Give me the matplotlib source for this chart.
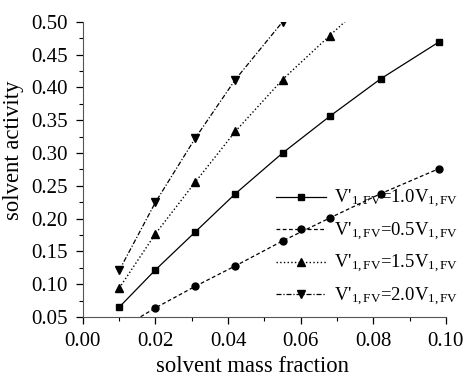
import matplotlib
matplotlib.use("Agg")
import matplotlib.pyplot as plt
from matplotlib.ticker import MultipleLocator

plt.rcParams['font.family'] = ['Liberation Serif', 'DejaVu Serif']
plt.rcParams['mathtext.fontset'] = 'custom'
plt.rcParams['mathtext.rm'] = 'Liberation Serif'
plt.rcParams['mathtext.it'] = 'Liberation Serif:italic'

# solvent mass fraction
x = [0.010, 0.020, 0.031, 0.042, 0.055, 0.068, 0.082, 0.098]

# solvent activity for each V'1,FV ratio
a_10 = [0.065, 0.122, 0.180, 0.238, 0.300, 0.356, 0.413, 0.469]
a_05 = [0.031, 0.064, 0.097, 0.128, 0.166, 0.201, 0.238, 0.276]
a_15 = [0.094, 0.177, 0.256, 0.333, 0.412, 0.479, 0.550, 0.615]
a_20 = [0.121, 0.225, 0.323, 0.412, 0.500, 0.575, 0.650, 0.720]

labels = [r"V'$_{\rm 1,FV}$=1.0V$_{\rm 1,FV}$",
          r"V'$_{\rm 1,FV}$=0.5V$_{\rm 1,FV}$",
          r"V'$_{\rm 1,FV}$=1.5V$_{\rm 1,FV}$",
          r"V'$_{\rm 1,FV}$=2.0V$_{\rm 1,FV}$"]

fig = plt.figure(figsize=(4.63, 3.77), dpi=100)
ax = fig.add_axes([0.179, 0.159, 0.784, 0.783])

ax.plot(x, a_10, 'k-', marker='s', ms=5, lw=0.9, label=labels[0])
ax.plot(x, a_05, 'k--', marker='o', ms=5, lw=0.9, dashes=(3, 2), label=labels[1])
ax.plot(x, a_15, 'k:', marker='^', ms=6, lw=1.0, label=labels[2])
ax.plot(x, a_20, 'k-.', marker='v', ms=6, lw=0.9, dashes=(4, 1.5, 1, 1.5), label=labels[3])

ax.set_xlim(0, 0.1)
ax.set_ylim(0.05, 0.5)
ax.xaxis.set_major_locator(MultipleLocator(0.02))
ax.xaxis.set_minor_locator(MultipleLocator(0.01))
ax.yaxis.set_major_locator(MultipleLocator(0.05))
ax.yaxis.set_minor_locator(MultipleLocator(0.025))
ax.xaxis.set_major_formatter(matplotlib.ticker.FormatStrFormatter('%.2f'))
ax.yaxis.set_major_formatter(matplotlib.ticker.FormatStrFormatter('%.2f'))

for s in ['top', 'right']:
    ax.spines[s].set_visible(False)
for s in ['left', 'bottom']:
    ax.spines[s].set_color('#555555')
ax.tick_params(which='major', direction='out', length=5, width=0.9, labelsize=15, pad=6)
ax.tick_params(which='minor', direction='out', length=3, width=0.8)

ax.set_xlabel('solvent mass fraction', fontsize=16.3, labelpad=3, x=0.466)
ax.set_ylabel('solvent activity', fontsize=16.3, labelpad=5, y=0.566)

ax.legend(loc='lower right', bbox_to_anchor=(1.06, 0.0), frameon=False,
          fontsize=13.5, handlelength=2.65, handletextpad=0.45, labelspacing=0.55,
          borderaxespad=0.1)

fig.savefig('out.png', dpi=100)
